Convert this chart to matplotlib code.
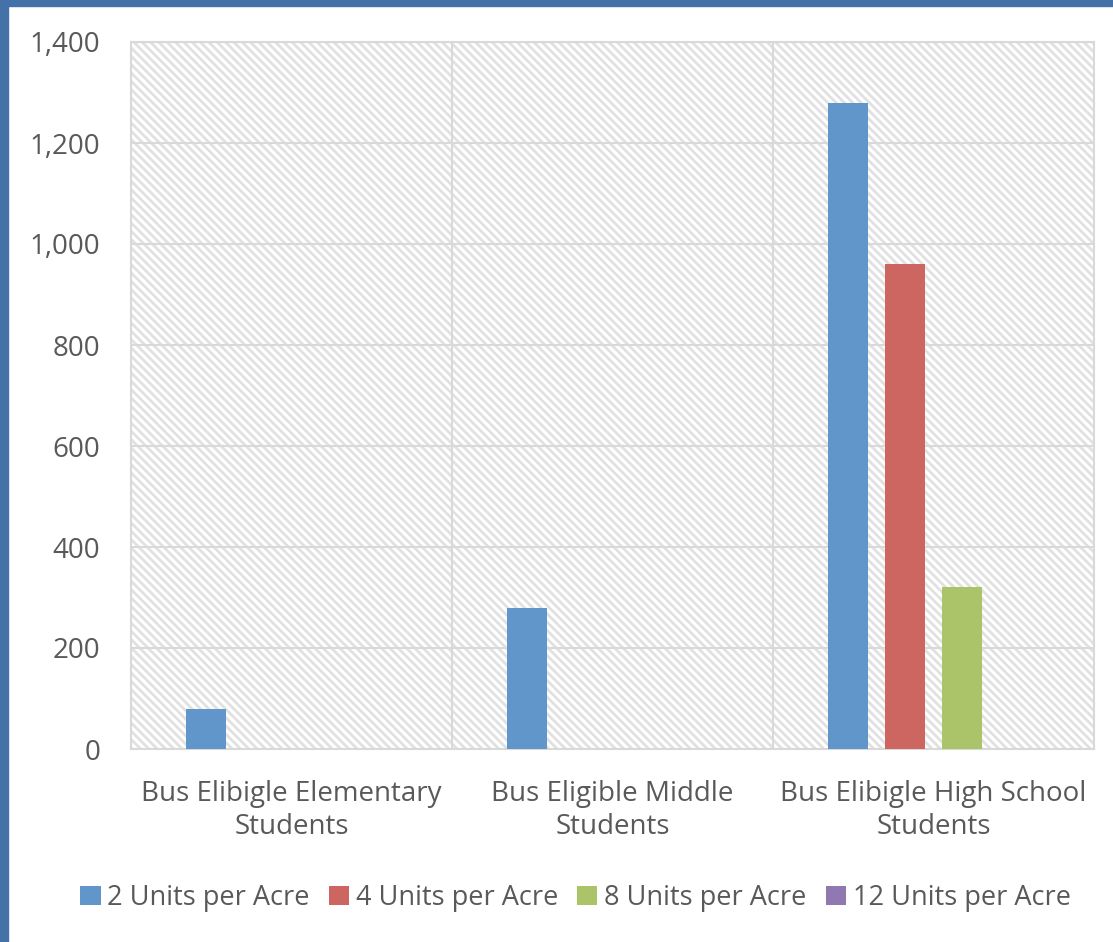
import matplotlib.pyplot as plt
import matplotlib.patches as mpatches
import numpy as np

categories = ["Bus Elibigle Elementary\nStudents", "Bus Eligible Middle\nStudents", "Bus Elibigle High School\nStudents"]
series_names = ["2 Units per Acre", "4 Units per Acre", "8 Units per Acre", "12 Units per Acre"]
units_2 = [80, 280, 1280]
units_4 = [0, 0, 960]
units_8 = [0, 0, 320]
units_12 = [0, 0, 0]
colors = ["#6096CA", "#CD6660", "#ABC46A", "#9079B1"]

plt.rcParams['font.family'] = ['Open Sans', 'DejaVu Sans']
plt.rcParams['hatch.linewidth'] = 2.0
text_col = '#595959'
grid_col = '#d9d9d9'

fig = plt.figure(figsize=(11.13, 9.42), dpi=100)
ax = fig.add_axes([131/1113, 1-749/942, (1094-131)/1113, (749-42)/942])

# blue frame on left and top
fig.patches.append(mpatches.Rectangle((0, 0), 8/1113, 1, transform=fig.transFigure, color='#4472A8', zorder=0))
fig.patches.append(mpatches.Rectangle((0, 1-6/942), 1, 6/942, transform=fig.transFigure, color='#4472A8', zorder=0))

# hatched plot background
ax.add_patch(mpatches.Rectangle((0, 0), 1, 1, transform=ax.transAxes, facecolor='none',
                                edgecolor='#e1e1e1', linewidth=0, hatch='\\\\\\\\', zorder=0))

x = np.arange(len(categories))
all_vals = [units_2, units_4, units_8, units_12]
w = 0.125
step = 0.178
for i, vals in enumerate(all_vals):
    ax.bar(x + (i - 1.5) * step, vals, width=w, color=colors[i], label=series_names[i], zorder=3)

ax.set_xlim(-0.5, 2.5)
ax.set_ylim(0, 1400)
ax.set_yticks(range(0, 1401, 200))
ax.set_yticklabels([f"{v:,}" for v in range(0, 1401, 200)])
for v in range(200, 1401, 200):
    ax.axhline(v, color=grid_col, lw=1.5, zorder=1)
for v in [0.5, 1.5]:
    ax.axvline(v, color=grid_col, lw=1.5, zorder=1)
for s in ax.spines.values():
    s.set_color(grid_col)
    s.set_linewidth(1.5)

ax.set_xticks(x)
ax.set_xticklabels(categories, linespacing=1.25)
ax.tick_params(axis='y', length=0, pad=22, labelsize=20, labelcolor=text_col)
ax.tick_params(axis='x', length=0, pad=22, labelsize=20, labelcolor=text_col)

fig.legend(loc='center', bbox_to_anchor=(0.517, 1-898/942), ncol=4, frameon=False,
           fontsize=19.5, labelcolor=text_col, handlelength=0.75, handleheight=0.75,
           handletextpad=0.25, columnspacing=0.7)

fig.savefig('out.png', dpi=100)
